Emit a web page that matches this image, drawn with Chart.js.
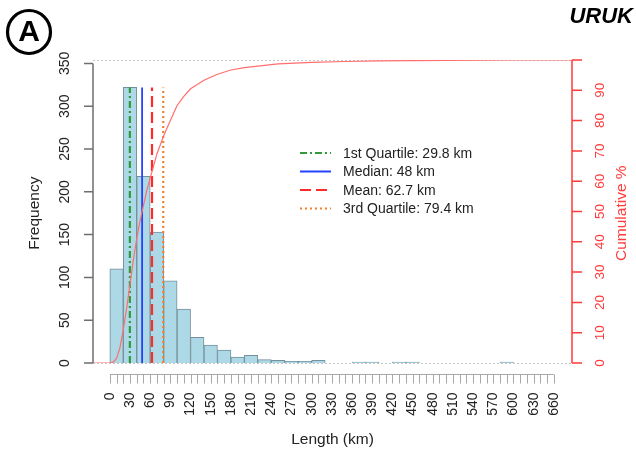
<!DOCTYPE html>
<html>
<head>
<meta charset="utf-8">
<title>URUK - Length distribution</title>
<script src="https://cdn.jsdelivr.net/npm/chart.js"></script>
<style>
  body { margin: 0; background: #fff; }
  canvas { display: block; }
</style>
</head>
<body>
<canvas id="hist" width="636" height="459"></canvas>
<script>
// histogram: 20 km bins starting at 0
const binWidth = 20;
const binCounts = [110, 322, 218, 153, 96, 63, 30, 21, 15, 7, 9, 4, 3, 2, 2, 3,
                   0, 0, 1, 1, 0, 1, 1, 0, 0, 0, 0, 0, 0, 1, 0, 0, 0];

// summary statistics (km)
const statNames  = ['1st Quartile', 'Median', 'Mean', '3rd Quartile'];
const statValues = [29.8, 48, 62.7, 79.4];
const statColors = ['#2f9a3e', '#2442ff', '#ff2b2b', '#f2802e'];
const statDashes = [[7, 3, 2, 3], [], [11, 5], [2, 3]];

// cumulative percentage curve
const cumKm  = [-25, 0, 5, 10, 15, 20, 25, 30, 35, 40, 45, 50, 55, 60, 65, 70, 80, 90,
                100, 110, 120, 140, 160, 180, 200, 250, 300, 350, 400, 450, 500, 600, 687];
const cumPct = [0, 0, 0.3, 1.5, 5, 11, 18, 26, 34, 41, 47, 52, 57, 61, 65, 69, 75, 80,
                85, 88, 90.5, 93.3, 95.3, 96.7, 97.5, 98.7, 99.2, 99.5, 99.7, 99.8, 99.9, 100, 100];

// axis ticks
const leftTicks  = [0, 50, 100, 150, 200, 250, 300, 350];
const rightTicks = [0, 10, 20, 30, 40, 50, 60, 70, 80, 90, 100];
const rightLabels = ['0', '10', '20', '30', '40', '50', '60', '70', '80', '90', ''];
const xMinorStep = 10;
const xLabelStep = 30;
const xMax = 660;

const FONT = '"Liberation Sans", Arial, sans-serif';

function rotText(ctx, text, x, y, align) {
  ctx.save();
  ctx.translate(x, y);
  ctx.rotate(-Math.PI / 2);
  ctx.textAlign = align;
  ctx.textBaseline = 'middle';
  ctx.fillText(text, 0, 0);
  ctx.restore();
}

// base-R style axes, legend and labels
const rPlotAxes = {
  id: 'rPlotAxes',
  beforeDatasetsDraw(chart) {
    const { ctx, chartArea: a, scales: { y2 } } = chart;
    ctx.save();
    ctx.strokeStyle = '#c6c6c6';
    ctx.lineWidth = 1;
    ctx.setLineDash([2, 2]);
    [0, 100].forEach(v => {
      const py = Math.round(y2.getPixelForValue(v)) + 0.5;
      ctx.beginPath();
      ctx.moveTo(a.left, py);
      ctx.lineTo(a.right, py);
      ctx.stroke();
    });
    ctx.restore();
  },
  afterDraw(chart) {
    const { ctx, chartArea: a, scales: { x, y, y2 } } = chart;
    ctx.save();

    // left axis
    const lx = a.left;
    ctx.strokeStyle = '#6e6e6e';
    ctx.lineWidth = 1.5;
    ctx.beginPath();
    ctx.moveTo(lx, y.getPixelForValue(0));
    ctx.lineTo(lx, y.getPixelForValue(350));
    leftTicks.forEach(v => {
      const py = y.getPixelForValue(v);
      ctx.moveTo(lx, py);
      ctx.lineTo(lx - 9, py);
    });
    ctx.stroke();
    ctx.fillStyle = '#222';
    ctx.font = '14px ' + FONT;
    leftTicks.forEach(v => rotText(ctx, String(v), lx - 28, y.getPixelForValue(v), 'center'));

    // right axis (cumulative %)
    const rx = a.right;
    ctx.strokeStyle = '#ff3b3b';
    ctx.beginPath();
    ctx.moveTo(rx, y2.getPixelForValue(0));
    ctx.lineTo(rx, y2.getPixelForValue(100));
    rightTicks.forEach(v => {
      const py = y2.getPixelForValue(v);
      ctx.moveTo(rx, py);
      ctx.lineTo(rx + 10, py);
    });
    ctx.stroke();
    ctx.fillStyle = '#ff3b3b';
    ctx.font = '13.5px ' + FONT;
    rightTicks.forEach((v, i) => rotText(ctx, rightLabels[i], rx + 28, y2.getPixelForValue(v), 'center'));

    // bottom axis, offset below the bars
    const ay = Math.round(a.bottom + 11) + 0.5;
    ctx.strokeStyle = '#a8a8a8';
    ctx.lineWidth = 1;
    ctx.beginPath();
    ctx.moveTo(x.getPixelForValue(0), ay);
    ctx.lineTo(x.getPixelForValue(xMax), ay);
    for (let v = 0; v <= xMax; v += xMinorStep) {
      const px = Math.round(x.getPixelForValue(v)) + 0.5;
      ctx.moveTo(px, ay);
      ctx.lineTo(px, ay + 9);
    }
    ctx.stroke();
    ctx.fillStyle = '#222';
    ctx.font = '14px ' + FONT;
    for (let v = 0; v <= xMax; v += xLabelStep) {
      rotText(ctx, String(v), x.getPixelForValue(v), ay + 18, 'right');
    }

    // axis titles
    ctx.font = '15.5px ' + FONT;
    ctx.fillStyle = '#222';
    const midY = (y.getPixelForValue(0) + y.getPixelForValue(350)) / 2;
    rotText(ctx, 'Frequency', 35, midY, 'center');
    ctx.textAlign = 'center';
    ctx.textBaseline = 'middle';
    ctx.fillText('Length (km)', (a.left + a.right) / 2, 440);
    ctx.fillStyle = '#ff3b3b';
    rotText(ctx, 'Cumulative %', 622, midY, 'center');

    // legend for the summary lines
    ctx.font = '14px ' + FONT;
    statNames.forEach((n, i) => {
      const ly = 153 + i * 18.5;
      ctx.strokeStyle = statColors[i];
      ctx.lineWidth = 2;
      ctx.setLineDash(statDashes[i]);
      ctx.beginPath();
      ctx.moveTo(300, ly);
      ctx.lineTo(331, ly);
      ctx.stroke();
      ctx.setLineDash([]);
      ctx.fillStyle = '#222';
      ctx.textAlign = 'left';
      ctx.fillText(`${n}: ${statValues[i]} km`, 343, ly + 1);
    });

    // panel letter and region name
    ctx.strokeStyle = '#000';
    ctx.lineWidth = 3.2;
    ctx.beginPath();
    ctx.arc(29, 32, 21.5, 0, Math.PI * 2);
    ctx.stroke();
    ctx.fillStyle = '#000';
    ctx.font = 'bold 30px ' + FONT;
    ctx.textAlign = 'center';
    ctx.fillText('A', 29, 33);
    ctx.font = 'italic bold 22px ' + FONT;
    ctx.textAlign = 'right';
    ctx.fillText('URUK', 633, 17);

    ctx.restore();
  }
};

new Chart(document.getElementById('hist'), {
  type: 'bar',
  data: {
    datasets: [
      {
        type: 'bar',
        label: 'Frequency',
        data: binCounts.map((c, i) => ({ x: i * binWidth + binWidth / 2, y: c })),
        backgroundColor: '#add8e6',
        borderColor: '#74909b',
        borderWidth: 1,
        barPercentage: 1,
        categoryPercentage: 1,
        yAxisID: 'y',
        order: 3
      },
      ...statValues.map((v, i) => ({
        type: 'line',
        label: `${statNames[i]}: ${v} km`,
        data: [{ x: v, y: 0 }, { x: v, y: Math.max(...binCounts) }],
        borderColor: statColors[i],
        borderDash: statDashes[i],
        borderWidth: i === 1 ? 1.8 : 2.2,
        pointRadius: 0,
        yAxisID: 'y',
        order: 2
      })),
      {
        type: 'line',
        label: 'Cumulative %',
        data: cumKm.map((k, i) => ({ x: k, y: cumPct[i] })),
        borderColor: '#ff6e6e',
        borderWidth: 1.2,
        pointRadius: 0,
        tension: 0,
        yAxisID: 'y2',
        order: 1
      }
    ]
  },
  options: {
    responsive: false,
    animation: false,
    layout: { padding: { left: 93, right: 64, top: 60, bottom: 96 } },
    plugins: { legend: { display: false }, tooltip: { enabled: false } },
    scales: {
      x: { type: 'linear', min: -25, max: 687, offset: false, display: false },
      y: { min: 0, max: 354, display: false },
      y2: { min: 0, max: 100, position: 'right', display: false }
    }
  },
  plugins: [rPlotAxes]
});
</script>
</body>
</html>
